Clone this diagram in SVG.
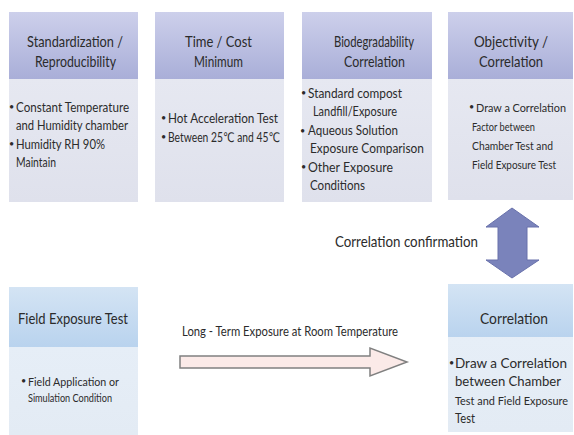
<svg xmlns="http://www.w3.org/2000/svg" width="574" height="435" viewBox="0 0 574 435">
<defs>
<linearGradient id="hdrP" x1="0" y1="0" x2="0" y2="1">
<stop offset="0" stop-color="#cdd0eb"/><stop offset="1" stop-color="#a9aed8"/>
</linearGradient>
<linearGradient id="bodyP" x1="0" y1="0" x2="0" y2="1">
<stop offset="0" stop-color="#e6e8f1"/><stop offset="1" stop-color="#dfe1ec"/>
</linearGradient>
<linearGradient id="hdrB" x1="0" y1="0" x2="0" y2="1">
<stop offset="0" stop-color="#d4e4f4"/><stop offset="1" stop-color="#b9d3ee"/>
</linearGradient>
<linearGradient id="bodyB" x1="0" y1="0" x2="0" y2="1">
<stop offset="0" stop-color="#e6eef7"/><stop offset="1" stop-color="#e3ebf4"/>
</linearGradient>
<style>
text{font-family:Lato,"Liberation Sans","DejaVu Sans",sans-serif;fill:#2b2b2b}
.h{font-size:16px}
.b{font-size:13px}
.c{font-size:12px}
.d{font-size:11px}
.s{font-size:12px}
.l{font-size:15px}
.u{font-size:9px}
</style>
</defs>
<rect width="574" height="435" fill="#ffffff"/>

<g id="node-standardization">
<rect x="9" y="12" width="129" height="67" fill="url(#hdrP)"/>
<rect x="9" y="79" width="129" height="123" fill="url(#bodyP)"/>
<text class="h" x="27" y="47" textLength="96" lengthAdjust="spacingAndGlyphs">Standardization /</text>
<text class="h" x="35" y="67" textLength="81" lengthAdjust="spacingAndGlyphs">Reproducibility</text>
<text class="u" x="9" y="110">•</text>
<text class="b" x="16" y="112" textLength="113" lengthAdjust="spacingAndGlyphs">Constant Temperature</text>
<text class="b" x="16" y="130" textLength="112" lengthAdjust="spacingAndGlyphs">and Humidity chamber</text>
<text class="u" x="9" y="147">•</text>
<text class="b" x="16" y="149" textLength="89" lengthAdjust="spacingAndGlyphs">Humidity RH 90%</text>
<text class="b" x="16" y="167" textLength="40" lengthAdjust="spacingAndGlyphs">Maintain</text>
</g>

<g id="node-time-cost">
<rect x="155" y="12" width="129" height="67" fill="url(#hdrP)"/>
<rect x="155" y="79" width="129" height="123" fill="url(#bodyP)"/>
<text class="h" x="185" y="47" textLength="67" lengthAdjust="spacingAndGlyphs">Time / Cost</text>
<text class="h" x="194" y="67" textLength="49" lengthAdjust="spacingAndGlyphs">Minimum</text>
<text class="u" x="161" y="121">•</text>
<text class="b" x="168" y="123" textLength="110" lengthAdjust="spacingAndGlyphs">Hot Acceleration Test</text>
<text class="u" x="161" y="140">•</text>
<text class="b" x="168" y="142" textLength="112" lengthAdjust="spacingAndGlyphs">Between 25℃ and 45℃</text>
</g>

<g id="node-biodegradability">
<rect x="302" y="12" width="130" height="67" fill="url(#hdrP)"/>
<rect x="302" y="79" width="130" height="123" fill="url(#bodyP)"/>
<text class="h" x="334" y="47" textLength="80" lengthAdjust="spacingAndGlyphs">Biodegradability</text>
<text class="h" x="344" y="67" textLength="61" lengthAdjust="spacingAndGlyphs">Correlation</text>
<text class="u" x="301" y="96">•</text>
<text class="b" x="308" y="98" textLength="94" lengthAdjust="spacingAndGlyphs">Standard compost</text>
<text class="b" x="313" y="116" textLength="84" lengthAdjust="spacingAndGlyphs">Landfill/Exposure</text>
<text class="u" x="300" y="134">•</text>
<text class="b" x="308" y="135" textLength="90" lengthAdjust="spacingAndGlyphs">Aqueous Solution</text>
<text class="b" x="310" y="153" textLength="114" lengthAdjust="spacingAndGlyphs">Exposure  Comparison</text>
<text class="u" x="301" y="170">•</text>
<text class="b" x="308" y="172" textLength="85" lengthAdjust="spacingAndGlyphs">Other Exposure</text>
<text class="b" x="310" y="190" textLength="55" lengthAdjust="spacingAndGlyphs">Conditions</text>
</g>

<g id="node-objectivity">
<rect x="448" y="12" width="125" height="67" fill="url(#hdrP)"/>
<rect x="448" y="79" width="125" height="121" fill="url(#bodyP)"/>
<text class="h" x="474" y="47" textLength="74" lengthAdjust="spacingAndGlyphs">Objectivity /</text>
<text class="h" x="479" y="67" textLength="64" lengthAdjust="spacingAndGlyphs">Correlation</text>
<text class="u" x="469" y="110">•</text>
<text class="d" x="476" y="112" textLength="90" lengthAdjust="spacingAndGlyphs">Draw a Correlation</text>
<text class="c" x="472" y="131" textLength="63" lengthAdjust="spacingAndGlyphs">Factor between</text>
<text class="c" x="472" y="150" textLength="81" lengthAdjust="spacingAndGlyphs">Chamber Test  and</text>
<text class="c" x="472" y="169" textLength="84" lengthAdjust="spacingAndGlyphs">Field Exposure Test</text>
</g>

<g id="node-field-exposure">
<rect x="9" y="287" width="129" height="60" fill="url(#hdrB)"/>
<rect x="9" y="347" width="129" height="88" fill="url(#bodyB)"/>
<text class="h" x="18" y="324" textLength="110" lengthAdjust="spacingAndGlyphs">Field Exposure Test</text>
<text class="u" x="21" y="384">•</text>
<text class="s" x="28" y="386" textLength="91" lengthAdjust="spacingAndGlyphs">Field Application  or</text>
<text class="s" x="28" y="402" textLength="84" lengthAdjust="spacingAndGlyphs">Simulation Condition</text>
</g>

<g id="node-correlation">
<rect x="448" y="284" width="125" height="53" fill="url(#hdrB)"/>
<rect x="448" y="337" width="125" height="95" fill="url(#bodyB)"/>
<text class="h" x="480" y="324" textLength="68" lengthAdjust="spacingAndGlyphs">Correlation</text>
<text class="u" x="449" y="366">•</text>
<text class="b" x="455" y="368" textLength="112" lengthAdjust="spacingAndGlyphs">Draw a Correlation</text>
<text class="b" x="455" y="386" textLength="106" lengthAdjust="spacingAndGlyphs">between  Chamber</text>
<text class="d" x="455" y="405" textLength="113" lengthAdjust="spacingAndGlyphs">Test and Field  Exposure</text>
<text class="b" x="455" y="423" textLength="20" lengthAdjust="spacingAndGlyphs">Test</text>
</g>

<g id="connectors">
<polygon points="512,208 539,227 527,227 527,260 539,260 512,278 486,260 498,260 498,227 486,227" fill="#7a83bb" stroke="#6871ab" stroke-width="1"/>
<text class="l" x="335" y="247" textLength="143" lengthAdjust="spacingAndGlyphs">Correlation confirmation</text>
<polygon points="180,356 370,356 370,348 407,362 370,376 370,368 180,368" fill="#fbeae8" stroke="#808080" stroke-width="1.5"/>
<text class="b" x="182" y="336" textLength="216" lengthAdjust="spacingAndGlyphs">Long - Term Exposure  at Room Temperature</text>
</g>
</svg>
